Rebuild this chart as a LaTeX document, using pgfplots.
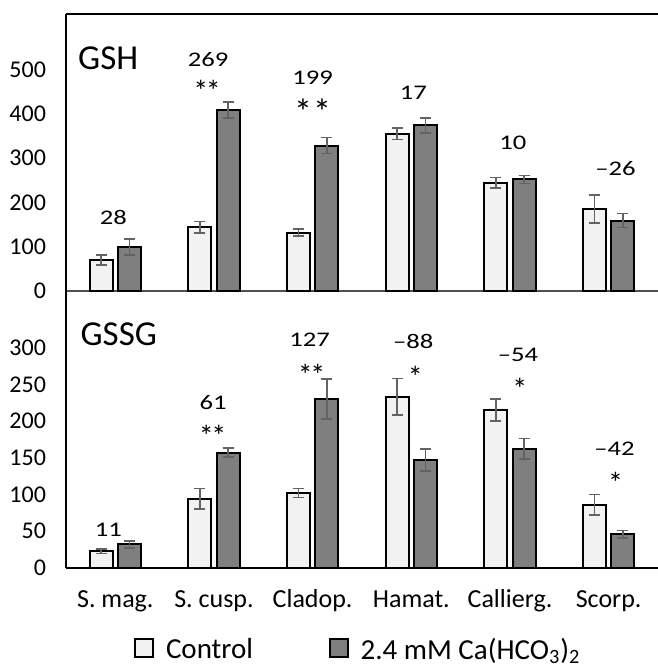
\documentclass[border=0pt]{standalone}
\usepackage{graphicx}
\usepackage{pgfplots}
\pgfplotsset{compat=1.18}
\usepackage{pgfplotstable}
\usepackage{fontspec}
\setmainfont{Carlito}
\definecolor{ctrl}{HTML}{F2F2F2}
\definecolor{trt}{HTML}{7F7F7F}
\definecolor{errc}{HTML}{636363}
\definecolor{midl}{HTML}{505050}

\pgfplotstableread{
x c ce t te
0 70 11 99 18
1 144 13 409 18
2 132 8 328 18
3 355 13 374 17
4 244 12 252 9
5 185 31 159 16
}\gsh
\pgfplotstableread{
x c ce t te
0 23 3 32 5
1 94 14 157 6
2 102 6 230 27
3 233 25 147 15
4 215 15 162 14
5 86 14 46 5
}\gssg

\pgfplotsset{
 panel/.style={scale only axis, width=296pt, height=138.5pt, xmin=-0.5, xmax=5.5, ymin=0,
  ybar, bar width=11.5pt, axis x line*=bottom, axis y line*=left, axis line style={-},
  major tick length=0pt,
  tick label style={font=\fontsize{12}{14}\selectfont}, yticklabel style={xshift=-6.5pt},
  /pgf/number format/assume math mode=true,
  clip=false},
 bc/.style={fill=ctrl, draw=black, line width=1pt, bar shift=-7.1pt,
  error bars/.cd, y dir=both, y explicit,
  error bar style={errc, line width=0.8pt},
  error mark options={errc, rotate=90, mark size=2.8pt, line width=0.8pt}},
 bt/.style={fill=trt, draw=black, line width=1pt, bar shift=7.1pt,
  error bars/.cd, y dir=both, y explicit,
  error bar style={errc, line width=0.8pt},
  error mark options={errc, rotate=90, mark size=2.8pt, line width=0.8pt}},
}
\tikzset{
 ann/.style={font=\fontsize{10.4}{12}\selectfont, inner sep=0pt},
 ast/.style={font=\fontsize{15}{17}\selectfont, inner sep=0pt, anchor=base},
}
\newcommand{\w}[1]{\scalebox{1.28}[1]{#1}}
\newcommand{\twoast}{*\kern-1.2pt*}

\begin{document}
\begin{tikzpicture}
\useasboundingbox (0,0) rectangle (329pt,-335pt);
% top panel
\begin{axis}[panel, at={(33pt,-145.5pt)}, anchor=south west, ymax=625,
  ytick={0,100,...,500}, xtick=\empty,
  x axis line style={midl, line width=0.8pt}, y axis line style={black, line width=0.9pt}]
\addplot[bc] table[x=x, y=c, y error=ce] {\gsh};
\addplot[bt] table[x=x, y=t, y error=te] {\gsh};
\draw[black, line width=0.9pt] (rel axis cs:0,1) -- (rel axis cs:1,1);
\node[anchor=base west, font=\fontsize{17.5}{19}\selectfont, inner sep=0pt] at (axis description cs:0.02,0.80) {GSH};
\node[ann] at (axis cs:-0.02,166) {\w{28}};
\node[ann] at (axis cs:0.94,523) {\w{269}};
\node[ast] at (axis cs:0.93,427) {\twoast};
\node[ann] at (axis cs:2.0,482) {\w{199}};
\node[ast, font=\fontsize{18}{20}\selectfont] at (axis cs:2.0,376) {*\kern0.5pt*};
\node[ann] at (axis cs:3.02,448) {\w{17}};
\node[ann] at (axis cs:4.03,335) {\w{10}};
\node[ann] at (axis cs:5.07,277) {\w{–26}};
\end{axis}
% bottom panel
\begin{axis}[panel, at={(33pt,-284pt)}, anchor=south west, ymax=377,
  ytick={0,50,...,300},
  xtick={0,1,2,3,4,5},
  xticklabels={S. mag., S. cusp., Cladop., Hamat., Callierg., Scorp.},
  xticklabel style={font=\fontsize{13}{15}\selectfont, anchor=base, yshift=-19.5pt},
  x axis line style={black, line width=1pt}, y axis line style={black, line width=0.9pt},
  legend columns=2,
  legend style={at={(axis description cs:0.1149,-0.297)}, anchor=west, draw=none,
    inner xsep=0pt, inner ysep=0pt,
    font=\fontsize{14.5}{16}\selectfont,
    /tikz/every odd column/.style={column sep=4pt},
    /tikz/every even column/.style={column sep=36pt}},
  legend image code/.code={\draw[#1,/tikz/.cd, line width=0.8pt] (0pt,-3.5pt) rectangle (9pt,5.5pt);}]
\addplot[bc] table[x=x, y=c, y error=ce] {\gssg};
\addlegendentry{Control}
\addplot[bt] table[x=x, y=t, y error=te] {\gssg};
\addlegendentry{2.4 mM Ca(HCO\textsubscript{3})\textsubscript{2}}
\node[anchor=base west, font=\fontsize{17.5}{19}\selectfont, inner sep=0pt] at (axis description cs:0.024,0.805) {GSSG};
\node[ann] at (axis cs:-0.07,52) {\w{11}};
\node[ann] at (axis cs:0.99,225) {\w{61}};
\node[ast] at (axis cs:0.985,166) {\twoast};
\node[ann] at (axis cs:1.97,310) {\w{127}};
\node[ast] at (axis cs:1.99,249) {\twoast};
\node[ann] at (axis cs:3.02,308) {\w{–88}};
\node[ast] at (axis cs:3.04,246) {*};
\node[ann] at (axis cs:4.08,290) {\w{–54}};
\node[ast] at (axis cs:4.10,230) {*};
\node[ann] at (axis cs:5.06,162) {\w{–42}};
\node[ast] at (axis cs:5.07,101) {*};
\end{axis}
\end{tikzpicture}
\end{document}
